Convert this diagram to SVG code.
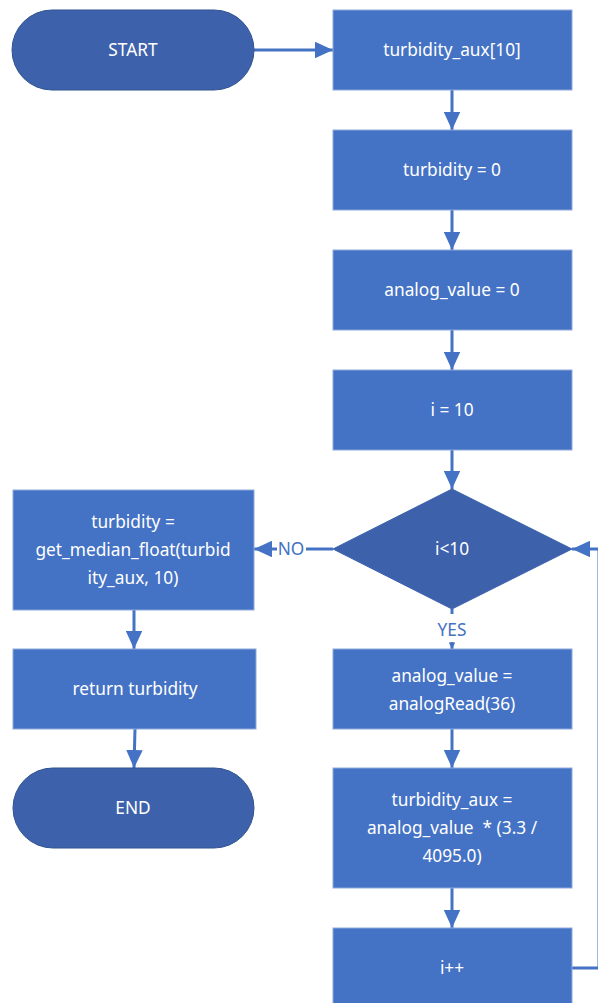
<svg xmlns="http://www.w3.org/2000/svg" width="598" height="1003" viewBox="0 0 598 1003">
  <style>
    .box { fill: #4472c4; stroke: #8eaadb; stroke-width: 1; }
    .term { fill: #3d62ab; stroke: #2f528f; stroke-width: 1; }
    .dec { fill: #3d62ab; stroke: #3d62ab; stroke-width: 1; }
    .t { font-family: "Noto Sans", "Open Sans", sans-serif; font-size: 17.3px; fill: #ffffff; text-anchor: middle; }
    .lbl { font-family: "Noto Sans", "Open Sans", sans-serif; font-size: 17.3px; fill: #4472c4; text-anchor: middle; }
    .c { fill: none; stroke: #4472c4; stroke-width: 3; }
  </style>
  <defs>
    <marker id="arrow" viewBox="0 0 10 10" refX="10" refY="5" markerWidth="6" markerHeight="5.5" markerUnits="strokeWidth" orient="auto" preserveAspectRatio="none">
      <path d="M0,0 L10,5 L0,10 z" fill="#4472c4"/>
    </marker>
    <marker id="arrowSmall" viewBox="0 0 10 10" refX="10" refY="5" markerWidth="2.2" markerHeight="2.2" markerUnits="strokeWidth" orient="auto">
      <path d="M0,0 L10,5 L0,10 z" fill="#4472c4"/>
    </marker>
  </defs>

  <!-- connectors -->
  <g id="connectors">
    <path class="c" d="M254,50 L333,50" marker-end="url(#arrow)"/>
    <path class="c" d="M452,90 L452,130" marker-end="url(#arrow)"/>
    <path class="c" d="M452,210 L452,250" marker-end="url(#arrow)"/>
    <path class="c" d="M452,330 L452,370" marker-end="url(#arrow)"/>
    <path class="c" d="M452,450 L452,489" marker-end="url(#arrow)"/>
    <!-- YES branch -->
    <path class="c" d="M452,609 L452,614"/>
    <path class="c" d="M452,642 L452,649" marker-end="url(#arrowSmall)"/>
    <text class="lbl" x="452" y="636">YES</text>
    <!-- NO branch -->
    <path class="c" d="M333,549 L306,549"/>
    <path class="c" d="M277,549 L254,549" marker-end="url(#arrow)"/>
    <text class="lbl" x="291" y="555">NO</text>
    <path class="c" d="M452,729 L452,768" marker-end="url(#arrow)"/>
    <path class="c" d="M452,888 L452,928" marker-end="url(#arrow)"/>
    <!-- loop back from i++ to the check, running along the right edge -->
    <path class="c" d="M572,968 L599,968 L599,549 L572,549" marker-end="url(#arrow)"/>
    <path class="c" d="M134,610 L134,649" marker-end="url(#arrow)"/>
    <path class="c" d="M135,729 L134,768" marker-end="url(#arrow)"/>
  </g>

  <g id="start">
    <rect class="term" x="12" y="10" width="242" height="80" rx="40" ry="40"/>
    <text class="t" x="133" y="56">START</text>
  </g>
  <g id="turbidity_aux_decl">
    <rect class="box" x="333" y="10" width="239" height="80"/>
    <text class="t" x="452" y="56">turbidity_aux[10]</text>
  </g>
  <g id="turbidity_init">
    <rect class="box" x="333" y="130" width="239" height="80"/>
    <text class="t" x="452" y="176">turbidity = 0</text>
  </g>
  <g id="analog_value_init">
    <rect class="box" x="333" y="250" width="239" height="80"/>
    <text class="t" x="452" y="296">analog_value = 0</text>
  </g>
  <g id="i_init">
    <rect class="box" x="333" y="370" width="239" height="80"/>
    <text class="t" x="452" y="416">i = 10</text>
  </g>
  <g id="loop_check">
    <polygon class="dec" points="452,489 572,549 452,609 333,549"/>
    <text class="t" x="452" y="555">i&lt;10</text>
  </g>
  <g id="read_analog">
    <rect class="box" x="333" y="649" width="239" height="80"/>
    <text class="t" x="452" y="682">analog_value =</text>
    <text class="t" x="452" y="710">analogRead(36)</text>
  </g>
  <g id="convert">
    <rect class="box" x="333" y="768" width="239" height="120"/>
    <text class="t" x="452" y="806">turbidity_aux =</text>
    <text class="t" x="452" y="834" xml:space="preserve">analog_value  * (3.3 /</text>
    <text class="t" x="452" y="862">4095.0)</text>
  </g>
  <g id="increment">
    <rect class="box" x="333" y="928" width="239" height="90"/>
    <text class="t" x="452" y="974">i++</text>
  </g>
  <g id="median">
    <rect class="box" x="13" y="490" width="241" height="120"/>
    <text class="t" x="133" y="528">turbidity =</text>
    <text class="t" x="133" y="556">get_median_float(turbid</text>
    <text class="t" x="133" y="584">ity_aux, 10)</text>
  </g>
  <g id="return_turbidity">
    <rect class="box" x="13" y="649" width="243" height="80"/>
    <text class="t" x="135" y="695">return turbidity</text>
  </g>
  <g id="end">
    <rect class="term" x="13" y="768" width="241" height="80" rx="40" ry="40"/>
    <text class="t" x="133" y="814">END</text>
  </g>
</svg>
